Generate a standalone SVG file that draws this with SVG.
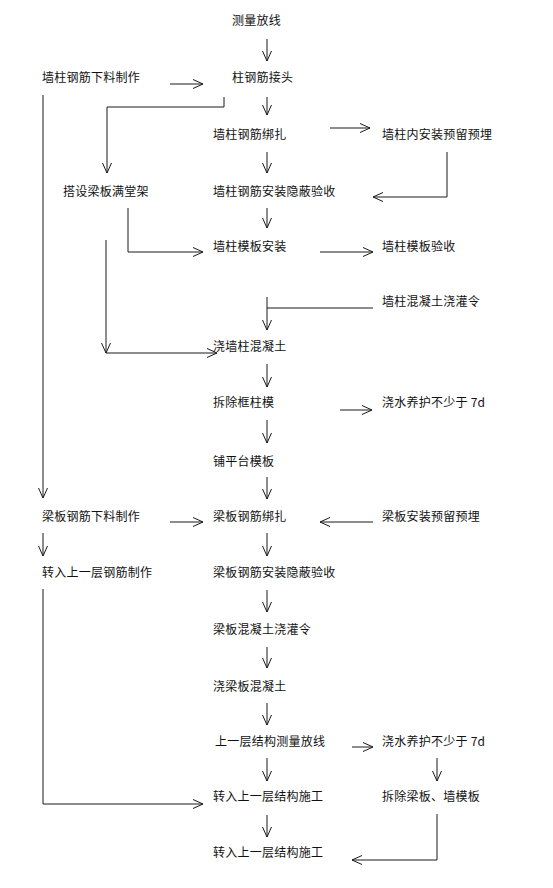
<svg xmlns="http://www.w3.org/2000/svg" width="553" height="888" viewBox="0 0 553 888">
<defs>
<marker id="ah" markerUnits="userSpaceOnUse" markerWidth="12" markerHeight="12" refX="10" refY="4.5" orient="auto" overflow="visible">
<path d="M0,0 L10,4.5 L0,9" fill="none" stroke="#1a1a1a" stroke-width="1"/>
</marker>
<style>
text{font-family:"Noto Sans CJK SC","Noto Sans",sans-serif;font-size:12px;letter-spacing:0.25px;fill:#111}
.c{fill:none;stroke:#1a1a1a;stroke-width:1}
.a{marker-end:url(#ah)}
</style>
</defs>
<rect width="553" height="888" fill="#fff"/>
<g id="connectors">
<path class="c a" d="M267,39V61"/>
<path class="c a" d="M170,84H203"/>
<path class="c a" d="M267,97V115"/>
<path class="c a" d="M224,97V107H107V173"/>
<path class="c a" d="M43,95V498"/>
<path class="c a" d="M330,128H370"/>
<path class="c a" d="M267,152V173"/>
<path class="c a" d="M447,152V197H373"/>
<path class="c a" d="M128,208V252H203"/>
<path class="c a" d="M267,208V228"/>
<path class="c a" d="M320,252H373"/>
<path class="c a" d="M106,240V353"/>
<path class="c a" d="M106,353H217"/>
<path class="c" d="M373,308H267"/>
<path class="c a" d="M267,297V330"/>
<path class="c a" d="M267,364V387"/>
<path class="c a" d="M340,410H372"/>
<path class="c a" d="M267,420V443"/>
<path class="c a" d="M267,477V499"/>
<path class="c a" d="M170,522H203"/>
<path class="c a" d="M373,522H320"/>
<path class="c a" d="M43,533V556"/>
<path class="c a" d="M267,533V556"/>
<path class="c a" d="M43,589V804H203"/>
<path class="c a" d="M267,590V612"/>
<path class="c a" d="M267,647V668"/>
<path class="c a" d="M267,703V725"/>
<path class="c a" d="M352,747H373"/>
<path class="c a" d="M267,758V781"/>
<path class="c a" d="M437,758V781"/>
<path class="c a" d="M267,815V837"/>
<path class="c a" d="M437,814V860H352"/>
</g>
<g id="n1"><text x="232" y="25">测量放线</text></g>
<g id="n2"><text x="42" y="82">墙柱钢筋下料制作</text></g>
<g id="n3"><text x="232" y="82">柱钢筋接头</text></g>
<g id="n4"><text x="213" y="139">墙柱钢筋绑扎</text></g>
<g id="n5"><text x="382" y="139">墙柱内安装预留预埋</text></g>
<g id="n6"><text x="63" y="196">搭设梁板满堂架</text></g>
<g id="n7"><text x="213" y="196">墙柱钢筋安装隐蔽验收</text></g>
<g id="n8"><text x="213" y="251">墙柱模板安装</text></g>
<g id="n9"><text x="382" y="251">墙柱模板验收</text></g>
<g id="n10"><text x="382" y="306">墙柱混凝土浇灌令</text></g>
<g id="n11"><text x="213" y="351">浇墙柱混凝土</text></g>
<g id="n12"><text x="213" y="407">拆除框柱模</text></g>
<g id="n13"><text x="382" y="407">浇水养护不少于 7d</text></g>
<g id="n14"><text x="213" y="466">铺平台模板</text></g>
<g id="n15"><text x="42" y="521">梁板钢筋下料制作</text></g>
<g id="n16"><text x="213" y="521">梁板钢筋绑扎</text></g>
<g id="n17"><text x="382" y="521">梁板安装预留预埋</text></g>
<g id="n18"><text x="42" y="577">转入上一层钢筋制作</text></g>
<g id="n19"><text x="213" y="577">梁板钢筋安装隐蔽验收</text></g>
<g id="n20"><text x="213" y="634">梁板混凝土浇灌令</text></g>
<g id="n21"><text x="213" y="691">浇梁板混凝土</text></g>
<g id="n22"><text x="215" y="746">上一层结构测量放线</text></g>
<g id="n23"><text x="382" y="746">浇水养护不少于 7d</text></g>
<g id="n24"><text x="213" y="801">转入上一层结构施工</text></g>
<g id="n25"><text x="382" y="801">拆除梁板、墙模板</text></g>
<g id="n26"><text x="213" y="857">转入上一层结构施工</text></g>
</svg>
